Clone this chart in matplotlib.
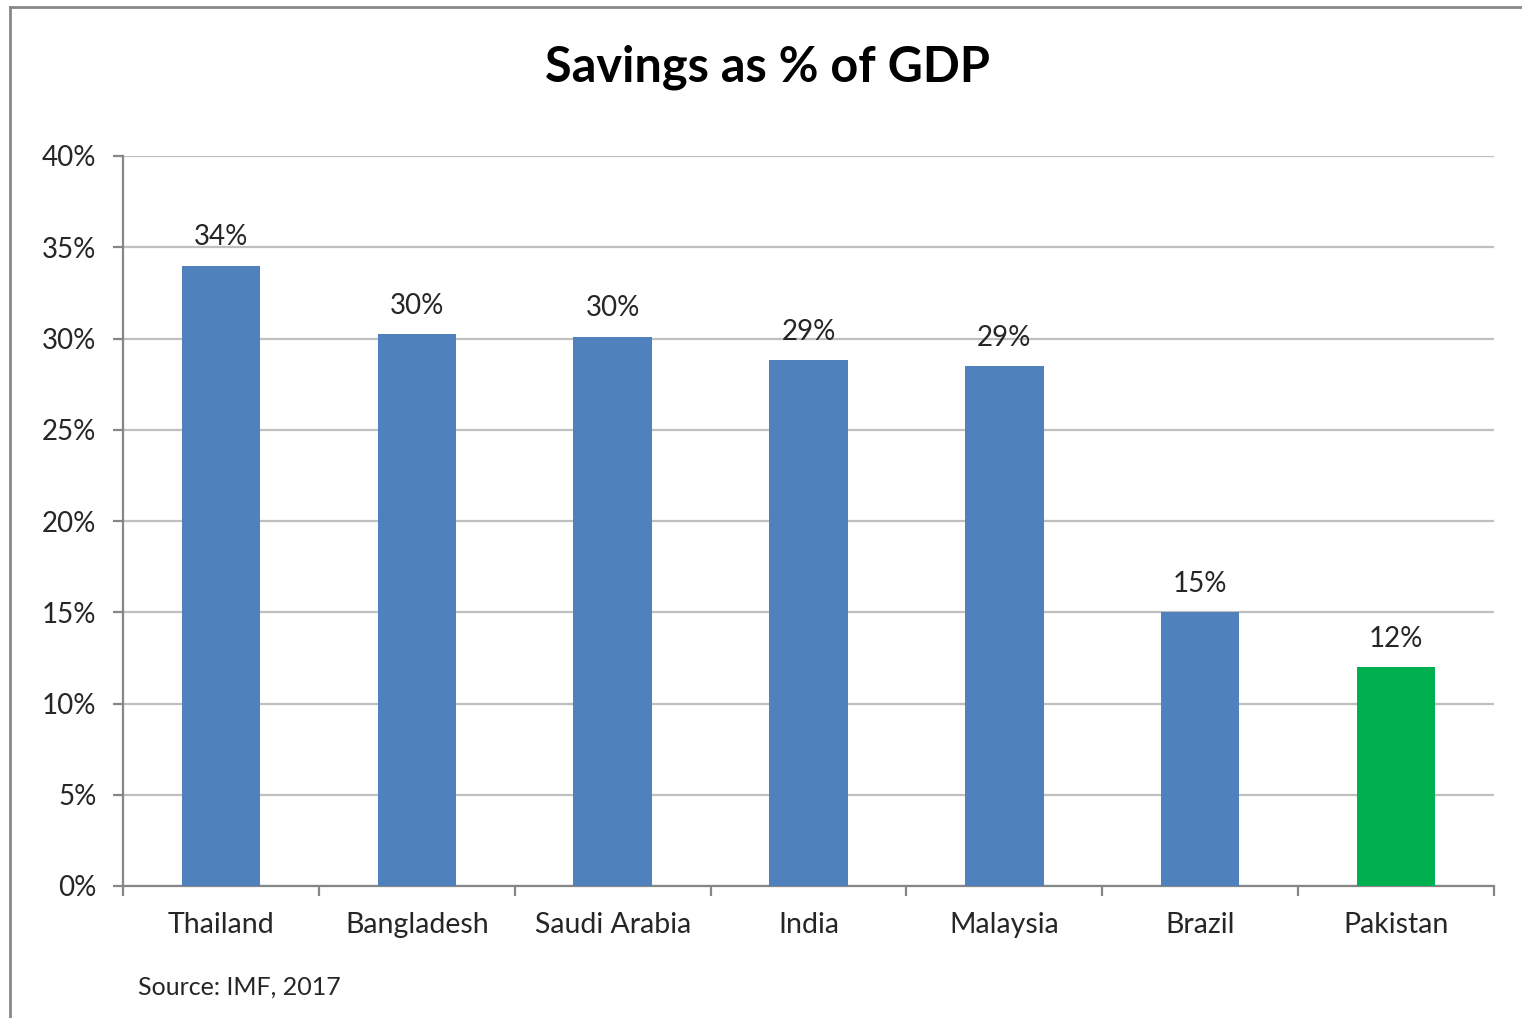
import matplotlib
matplotlib.use("Agg")
import matplotlib.pyplot as plt
from matplotlib.lines import Line2D

countries = ["Thailand", "Bangladesh", "Saudi Arabia", "India", "Malaysia", "Brazil", "Pakistan"]
savings = [34.0, 30.25, 30.1, 28.8, 28.5, 15.0, 12.0]
labels = ["34%", "30%", "30%", "29%", "29%", "15%", "12%"]
bar_colors = ["#4F81BD"] * 6 + ["#00B050"]
yticks = [0, 5, 10, 15, 20, 25, 30, 35, 40]
ytick_labels = ["0%", "5%", "10%", "15%", "20%", "25%", "30%", "35%", "40%"]

plt.rcParams['font.family'] = ['Lato', 'DejaVu Sans']

W, H = 1522, 1018
fig = plt.figure(figsize=(W / 100, H / 100), dpi=100)
ax = fig.add_axes([123 / W, 1 - 886 / H, (1494 - 123) / W, 730 / H])

x = list(range(len(countries)))
ax.bar(x, savings, width=0.40, color=bar_colors, zorder=3)
ax.set_xlim(-0.5, len(countries) - 0.5)
ax.set_ylim(0, 40)

ax.set_yticks(yticks)
ax.set_yticklabels(ytick_labels, fontsize=20, color="#262626")
ax.yaxis.grid(True, color="#BFBFBF", linewidth=1.6, zorder=0)
ax.set_axisbelow(True)

ax.set_xticks([i - 0.5 for i in range(len(countries) + 1)])
ax.set_xticklabels([])
ax.set_xticks(x, minor=True)
ax.set_xticklabels(countries, minor=True, fontsize=20.5, color="#262626")
ax.tick_params(axis='x', which='minor', length=0, pad=19)
ax.tick_params(axis='x', which='major', length=7, width=1.6, color="#868686")
ax.tick_params(axis='y', length=7, width=1.6, color="#868686", pad=12)

for s in ["top", "right"]:
    ax.spines[s].set_visible(False)
for s in ["left", "bottom"]:
    ax.spines[s].set_color("#868686")
    ax.spines[s].set_linewidth(1.6)

for xi, v, lab in zip(x, savings, labels):
    ax.annotate(lab, (xi, v), xytext=(0, 11), textcoords="offset points",
                ha="center", va="bottom", fontsize=20, color="#262626")

fig.text(768 / W, 1 - 67 / H, "Savings as % of GDP", ha="center", va="center",
         fontsize=35, fontweight="bold", color="black")
fig.text(138 / W, 1 - 987 / H, "Source: IMF, 2017", ha="left", va="center",
         fontsize=18, color="#262626")

fig.add_artist(Line2D([10 / W, 1.0], [1 - 7 / H, 1 - 7 / H], transform=fig.transFigure,
                      color="#888888", linewidth=2))
fig.add_artist(Line2D([10 / W, 10 / W], [1 - 7 / H, 0], transform=fig.transFigure,
                      color="#888888", linewidth=2))

fig.savefig("out.png", dpi=100)
